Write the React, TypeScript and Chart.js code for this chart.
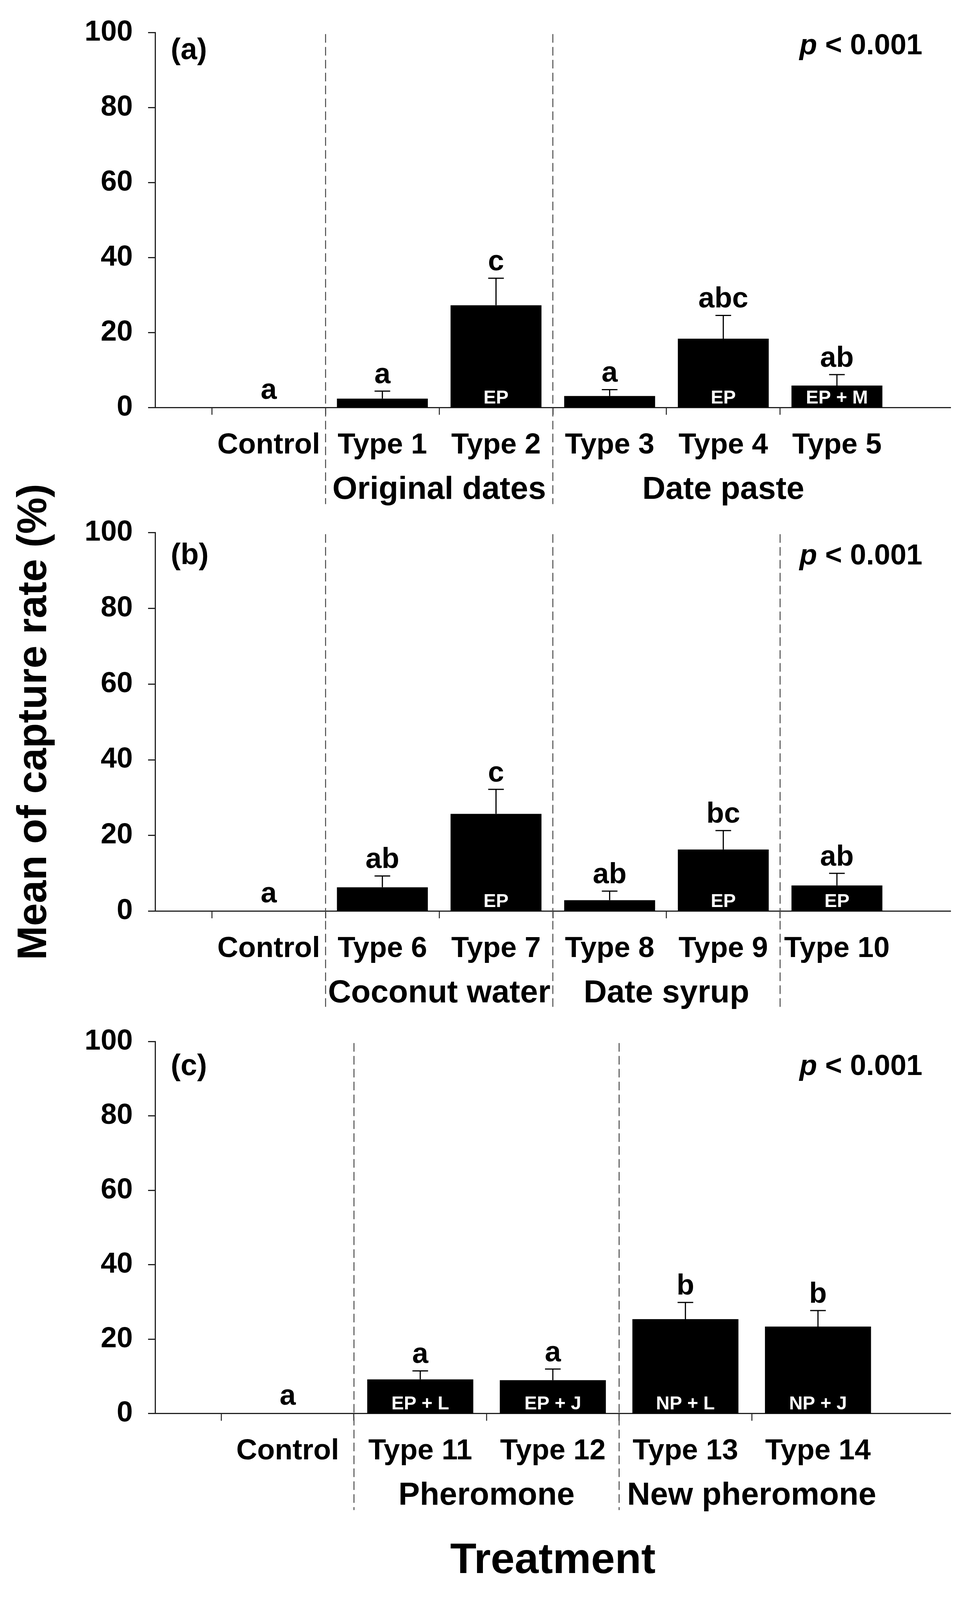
import React, { useEffect, useRef } from 'react';
import { Chart, registerables } from 'chart.js';

Chart.register(...registerables);

const FONT = '"Liberation Sans", Arial, Helvetica, sans-serif';
Chart.defaults.font.family = FONT;
Chart.defaults.color = '#000';

// ---------- Panel (a) ----------
const categoriesA = ['Control', 'Type 1', 'Type 2', 'Type 3', 'Type 4', 'Type 5'];
const valuesA = [0, 2.4, 27.3, 3.1, 18.4, 5.9];
const errorsA = [0, 2.0, 7.2, 1.7, 6.2, 2.9];
const lettersA = ['a', 'a', 'c', 'a', 'abc', 'ab'];
const innerA = ['', '', 'EP', '', 'EP', 'EP + M'];
const groupsA = [
  { label: 'Original dates', from: 1, to: 2 },
  { label: 'Date paste', from: 3, to: 5 },
];
const separatorsA = [0, 2];

// ---------- Panel (b) ----------
const categoriesB = ['Control', 'Type 6', 'Type 7', 'Type 8', 'Type 9', 'Type 10'];
const valuesB = [0, 6.3, 25.7, 2.9, 16.3, 6.8];
const errorsB = [0, 3.0, 6.5, 2.4, 5.0, 3.2];
const lettersB = ['a', 'ab', 'c', 'ab', 'bc', 'ab'];
const innerB = ['', '', 'EP', '', 'EP', 'EP'];
const groupsB = [
  { label: 'Coconut water', from: 1, to: 2 },
  { label: 'Date syrup', from: 3, to: 4 },
];
const separatorsB = [0, 2, 4];

// ---------- Panel (c) ----------
const categoriesC = ['Control', 'Type 11', 'Type 12', 'Type 13', 'Type 14'];
const valuesC = [0, 9.2, 9.0, 25.4, 23.4];
const errorsC = [0, 2.3, 3.0, 4.5, 4.3];
const lettersC = ['a', 'a', 'a', 'b', 'b'];
const innerC = ['', 'EP + L', 'EP + J', 'NP + L', 'NP + J'];
const groupsC = [
  { label: 'Pheromone', from: 1, to: 2 },
  { label: 'New pheromone', from: 3, to: 4 },
];
const separatorsC = [0, 2];

const yMin = 0;
const yMax = 100;
const yStep = 20;
const pValueText = '< 0.001';
const yTitle = 'Mean of capture rate (%)';
const xTitle = 'Treatment';

type Group = { label: string; from: number; to: number };
type PanelCfg = {
  tag: string;
  categories: string[];
  values: number[];
  errors: number[];
  letters: string[];
  inner: string[];
  groups: Group[];
  separators: number[];
  canvasTop: number;
  canvasHeight: number;
  plotTop: number;
  plotBottom: number;
  tagDy: number;
  pDy: number;
  showYTitle?: boolean;
  showXTitle?: boolean;
};

const PAGE_W = 2493;
const PAGE_H = 4282;
const AXIS_LEFT = 397;
const AXIS_RIGHT = 2433;

const panels: PanelCfg[] = [
  {
    tag: '(a)', categories: categoriesA, values: valuesA, errors: errorsA, letters: lettersA,
    inner: innerA, groups: groupsA, separators: separatorsA,
    canvasTop: 0, canvasHeight: 1380, plotTop: 76, plotBottom: 1091, tagDy: 71, pDy: 58,
  },
  {
    tag: '(b)', categories: categoriesB, values: valuesB, errors: errorsB, letters: lettersB,
    inner: innerB, groups: groupsB, separators: separatorsB,
    canvasTop: 1280, canvasHeight: 1440, plotTop: 146, plotBottom: 1159, tagDy: 84, pDy: 85,
    showYTitle: true,
  },
  {
    tag: '(c)', categories: categoriesC, values: valuesC, errors: errorsC, letters: lettersC,
    inner: innerC, groups: groupsC, separators: separatorsC,
    canvasTop: 2700, canvasHeight: 1582, plotTop: 69, plotBottom: 1083, tagDy: 89, pDy: 90,
    showXTitle: true,
  },
];

// vertical fit factor: the photographed viewport may be a little shorter than the page size
function getSy(): number {
  const h = typeof window !== 'undefined' ? window.innerHeight : PAGE_H;
  const s = h / PAGE_H;
  if (!isFinite(s) || s <= 0) return 1;
  return Math.min(1, Math.max(0.85, s));
}

function makePlugin(cfg: PanelCfg, sy: number) {
  return {
    id: 'annotations',
    afterDatasetsDraw(chart: any) {
      const { ctx, scales } = chart;
      const x = scales.x;
      const y = scales.y;
      const y0 = y.getPixelForValue(0);
      ctx.save();
      cfg.values.forEach((v, i) => {
        const px = x.getPixelForValue(i + 1);
        const err = cfg.errors[i];
        const yTop = y.getPixelForValue(v);
        const yErr = y.getPixelForValue(v + err);
        if (err > 0) {
          ctx.strokeStyle = '#000';
          ctx.lineWidth = 3;
          ctx.beginPath();
          ctx.moveTo(px, yTop);
          ctx.lineTo(px, yErr);
          ctx.moveTo(px - 20, yErr);
          ctx.lineTo(px + 20, yErr);
          ctx.stroke();
        }
        ctx.fillStyle = '#000';
        ctx.font = `bold 74px ${FONT}`;
        ctx.textAlign = 'center';
        ctx.textBaseline = 'alphabetic';
        ctx.fillText(cfg.letters[i], px, yErr - (err > 0 ? 21 : 24) * sy);
        if (cfg.inner[i]) {
          ctx.fillStyle = '#fff';
          ctx.font = `bold 48px ${FONT}`;
          ctx.fillText(cfg.inner[i], px, y0 - 11 * sy);
        }
      });
      ctx.restore();
    },
    afterDraw(chart: any) {
      const { ctx, chartArea, scales } = chart;
      const x = scales.x;
      const y = scales.y;
      const y0 = y.getPixelForValue(0);
      ctx.save();
      // dashed separators
      ctx.strokeStyle = '#4a4a4a';
      ctx.lineWidth = 2.5;
      ctx.setLineDash([22, 11]);
      cfg.separators.forEach((s) => {
        const sx = (x.getPixelForValue(s + 1) + x.getPixelForValue(s + 2)) / 2;
        ctx.beginPath();
        ctx.moveTo(sx, chartArea.top + 4 * sy);
        ctx.lineTo(sx, y0 + 258 * sy);
        ctx.stroke();
      });
      ctx.setLineDash([]);
      // group labels
      ctx.fillStyle = '#000';
      ctx.font = `bold 82px ${FONT}`;
      ctx.textAlign = 'center';
      ctx.textBaseline = 'alphabetic';
      cfg.groups.forEach((g) => {
        const gx = (x.getPixelForValue(g.from + 1) + x.getPixelForValue(g.to + 1)) / 2;
        ctx.fillText(g.label, gx, y0 + 244 * sy);
      });
      // panel tag
      ctx.font = `bold 76px ${FONT}`;
      ctx.textAlign = 'left';
      ctx.fillText(cfg.tag, chartArea.left + 40, chartArea.top + cfg.tagDy * sy);
      // p value
      const pRight = chartArea.right - 72;
      const pY = chartArea.top + cfg.pDy * sy;
      ctx.font = `bold 74px ${FONT}`;
      ctx.textAlign = 'right';
      const rest = ' ' + pValueText;
      ctx.fillText(rest, pRight, pY);
      const w = ctx.measureText(rest).width;
      ctx.font = `italic bold 74px ${FONT}`;
      ctx.fillText('p', pRight - w, pY);
      ctx.restore();
    },
  };
}

function Panel({ cfg, sy }: { cfg: PanelCfg; sy: number }) {
  const ref = useRef<HTMLCanvasElement>(null);
  const cH = Math.round(cfg.canvasHeight * sy);
  const cTop = Math.round(cfg.canvasTop * sy);
  useEffect(() => {
    const canvas = ref.current;
    if (!canvas) return;
    const labels = ['', ...cfg.categories, ''];
    const data = [null, ...cfg.values, null];
    const plotTop = cfg.plotTop * sy;
    const plotBottom = cfg.plotBottom * sy;
    const chart = new Chart(canvas, {
      type: 'bar',
      data: {
        labels,
        datasets: [
          {
            data: data as any,
            backgroundColor: '#000',
            borderWidth: 0,
            barPercentage: 0.8,
            categoryPercentage: 1,
          },
        ],
      },
      options: {
        responsive: false,
        animation: false,
        devicePixelRatio: 1,
        events: [],
        layout: {
          padding: { left: 0, right: PAGE_W - AXIS_RIGHT, top: plotTop, bottom: 0 },
        },
        plugins: {
          legend: { display: false },
          tooltip: { enabled: false },
        },
        scales: {
          x: {
            type: 'category',
            offset: false,
            grid: {
              display: true,
              drawOnChartArea: false,
              drawTicks: true,
              tickLength: 19 * sy,
              tickWidth: 2.5,
              tickColor: (c: any) => (c.tick && c.tick.label === '' ? 'rgba(0,0,0,0)' : '#222'),
            },
            border: { display: true, color: '#222', width: 3 },
            ticks: {
              autoSkip: false,
              maxRotation: 0,
              minRotation: 0,
              padding: 36 * sy,
              color: '#000',
              font: { size: 74, weight: 'bold' },
            },
            title: {
              display: !!cfg.showXTitle,
              text: xTitle,
              color: '#000',
              font: { size: 110, weight: 'bold' },
              padding: { top: 0, bottom: 35 * sy },
            },
            afterFit: (scale: any) => {
              scale.height = cH - plotBottom;
            },
          },
          y: {
            type: 'linear',
            min: yMin,
            max: yMax,
            ticks: {
              stepSize: yStep,
              padding: 39,
              color: '#000',
              font: { size: 74, weight: 'bold' },
            },
            grid: {
              display: true,
              drawOnChartArea: false,
              drawTicks: true,
              tickLength: 18,
              tickWidth: 3,
              tickColor: '#222',
            },
            border: { display: true, color: '#222', width: 3 },
            title: {
              display: !!cfg.showYTitle,
              text: yTitle,
              color: '#000',
              font: { size: Math.round(110 * sy), weight: 'bold' },
              padding: { top: 26, bottom: 0 },
            },
            afterFit: (scale: any) => {
              scale.width = AXIS_LEFT;
            },
          },
        },
      } as any,
      plugins: [makePlugin(cfg, sy)],
    });
    return () => chart.destroy();
  }, [cfg, sy, cH]);
  return (
    <canvas
      ref={ref}
      width={PAGE_W}
      height={cH}
      style={{
        position: 'absolute',
        left: 0,
        top: cTop,
        width: PAGE_W,
        height: cH,
      }}
    />
  );
}

export default function App() {
  const sy = getSy();
  return (
    <div
      style={{
        position: 'absolute',
        left: 0,
        top: 0,
        width: PAGE_W,
        height: Math.round(PAGE_H * sy),
        background: '#fff',
        overflow: 'hidden',
      }}
    >
      {panels.map((p) => (
        <Panel key={p.tag} cfg={p} sy={sy} />
      ))}
    </div>
  );
}
